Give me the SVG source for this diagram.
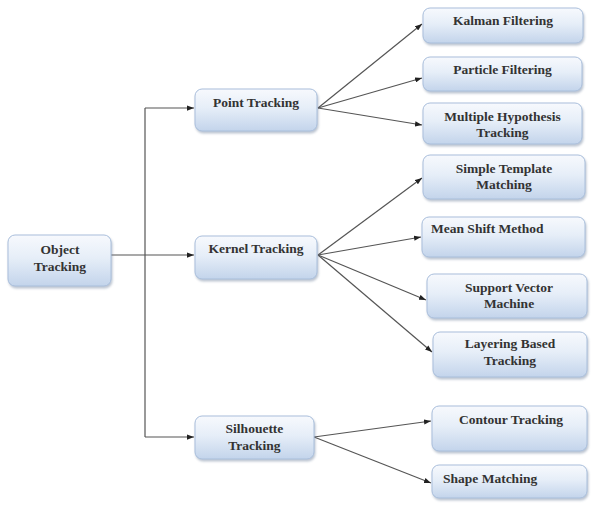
<svg xmlns="http://www.w3.org/2000/svg" width="593" height="508" viewBox="0 0 593 508">
  <defs>
    <linearGradient id="boxFill" x1="0" y1="0" x2="0" y2="1">
      <stop offset="0" stop-color="#f7f9fd"/>
      <stop offset="0.45" stop-color="#e6eef8"/>
      <stop offset="1" stop-color="#c3d4eb"/>
    </linearGradient>
    <filter id="shadow" x="-10%" y="-20%" width="125%" height="150%">
      <feDropShadow dx="1" dy="2" stdDeviation="1.2" flood-color="#6b7f99" flood-opacity="0.45"/>
    </filter>
    <marker id="arrow" viewBox="0 0 8 6" refX="8" refY="3" markerWidth="7" markerHeight="5.5" markerUnits="userSpaceOnUse" orient="auto">
      <path d="M0,0 L8,3 L0,6 Z" fill="#222"/>
    </marker>
  </defs>
  <style>
    .box { fill: url(#boxFill); stroke: #a9bedb; stroke-width: 1; filter: url(#shadow); }
    .label { font-family: "Liberation Serif", "Times New Roman", serif; font-weight: bold; font-size: 13.5px; fill: #333; }
    .c { text-anchor: middle; }
    .edge { stroke: #555; stroke-width: 1.2; fill: none; }
    .arr { marker-end: url(#arrow); }
  </style>
  <rect width="593" height="508" fill="#fff"/>

  <!-- connectors -->
  <g id="connectors">
    <line class="edge arr" x1="111" y1="255" x2="194" y2="255"/>
    <line class="edge" x1="145" y1="108" x2="145" y2="437"/>
    <line class="edge arr" x1="145" y1="108" x2="194" y2="108"/>
    <line class="edge arr" x1="145" y1="437" x2="194" y2="437"/>

    <line class="edge arr" x1="318" y1="108" x2="422" y2="24"/>
    <line class="edge arr" x1="318" y1="108" x2="422" y2="78"/>
    <line class="edge arr" x1="318" y1="108" x2="422" y2="125"/>

    <line class="edge arr" x1="318" y1="255" x2="422" y2="178"/>
    <line class="edge arr" x1="318" y1="255" x2="421" y2="237"/>
    <line class="edge arr" x1="318" y1="255" x2="426" y2="300"/>
    <line class="edge arr" x1="318" y1="255" x2="432" y2="352"/>

    <line class="edge arr" x1="314" y1="437" x2="431" y2="421"/>
    <line class="edge arr" x1="314" y1="437" x2="431" y2="483"/>
  </g>

  <g id="object-tracking">
    <rect class="box" x="8" y="235" width="103" height="51" rx="7"/>
    <text class="label c" x="60" y="254">Object</text>
    <text class="label c" x="60" y="271">Tracking</text>
  </g>

  <g id="point-tracking">
    <rect class="box" x="195" y="89" width="122" height="42" rx="7"/>
    <text class="label c" x="256" y="107">Point Tracking</text>
  </g>

  <g id="kernel-tracking">
    <rect class="box" x="195" y="236" width="122" height="43" rx="7"/>
    <text class="label c" x="256" y="253">Kernel Tracking</text>
  </g>

  <g id="silhouette-tracking">
    <rect class="box" x="195" y="416" width="119" height="43" rx="7"/>
    <text class="label c" x="254.5" y="433">Silhouette</text>
    <text class="label c" x="254.5" y="450">Tracking</text>
  </g>

  <g id="kalman-filtering">
    <rect class="box" x="423" y="8" width="160" height="35" rx="7"/>
    <text class="label c" x="503" y="25">Kalman Filtering</text>
  </g>

  <g id="particle-filtering">
    <rect class="box" x="423" y="57" width="159" height="34" rx="7"/>
    <text class="label c" x="502.5" y="74">Particle Filtering</text>
  </g>

  <g id="multiple-hypothesis-tracking">
    <rect class="box" x="423" y="103" width="159" height="41" rx="7"/>
    <text class="label c" x="502.5" y="121">Multiple Hypothesis</text>
    <text class="label c" x="502.5" y="137">Tracking</text>
  </g>

  <g id="simple-template-matching">
    <rect class="box" x="423" y="155" width="162" height="44" rx="7"/>
    <text class="label c" x="504" y="173">Simple Template</text>
    <text class="label c" x="504" y="189">Matching</text>
  </g>

  <g id="mean-shift-method">
    <rect class="box" x="422" y="217" width="163" height="40" rx="7"/>
    <text class="label" x="431" y="233">Mean Shift Method</text>
  </g>

  <g id="support-vector-machine">
    <rect class="box" x="427" y="274" width="160" height="44" rx="7"/>
    <text class="label c" x="509" y="292">Support Vector</text>
    <text class="label c" x="509" y="308">Machine</text>
  </g>

  <g id="layering-based-tracking">
    <rect class="box" x="433" y="332" width="154" height="45" rx="7"/>
    <text class="label c" x="510" y="348">Layering Based</text>
    <text class="label c" x="510" y="365">Tracking</text>
  </g>

  <g id="contour-tracking">
    <rect class="box" x="432" y="406" width="155" height="45" rx="7"/>
    <text class="label c" x="511" y="424">Contour Tracking</text>
  </g>

  <g id="shape-matching">
    <rect class="box" x="432" y="465" width="155" height="33" rx="7"/>
    <text class="label" x="443" y="483">Shape Matching</text>
  </g>
</svg>
